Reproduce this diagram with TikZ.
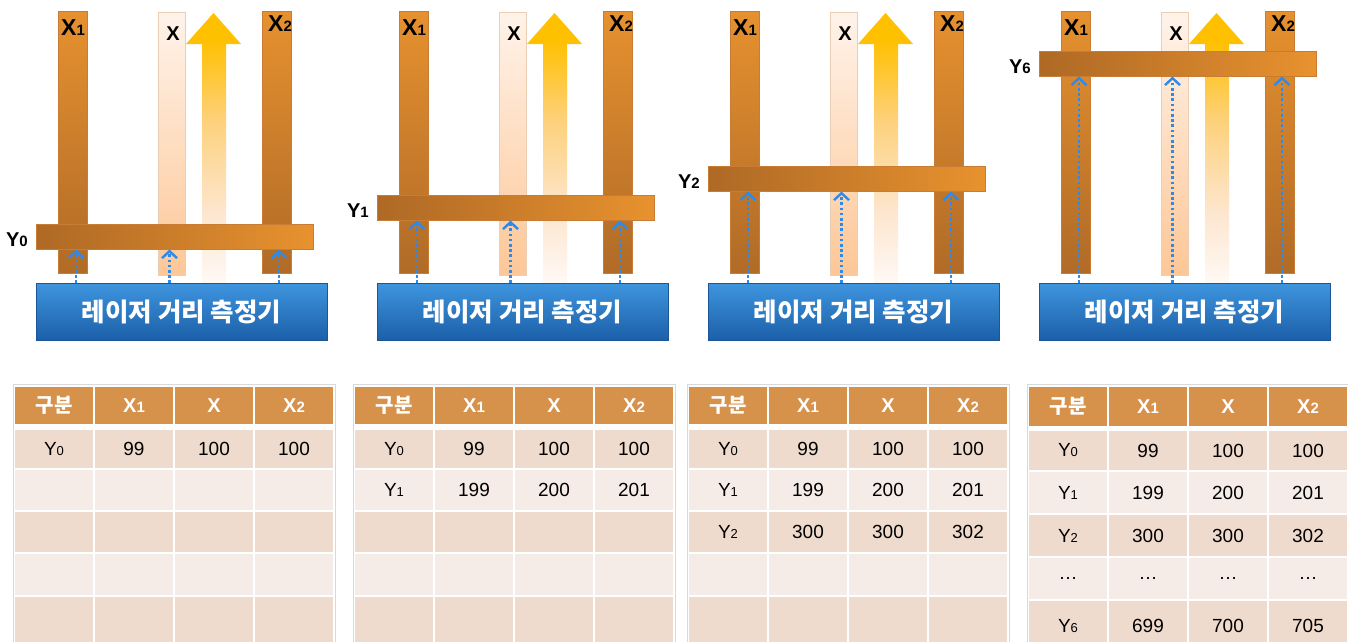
\documentclass[tikz,border=0pt]{standalone}
\usepackage{fontspec}
\setmainfont{Liberation Sans}
\newfontfamily\kr{Noto Sans CJK KR}
\usetikzlibrary{arrows.meta}
\definecolor{obarT}{HTML}{E6912F}
\definecolor{obarB}{HTML}{B06B27}
\definecolor{obarD}{HTML}{C97C33}
\definecolor{pbarT}{HTML}{FFF3EA}
\definecolor{pbarB}{HTML}{FDC797}
\definecolor{pbarD}{HTML}{EBCDB3}
\definecolor{ybarL}{HTML}{AE6925}
\definecolor{ybarR}{HTML}{E8922F}
\definecolor{arrT}{HTML}{FFC000}
\definecolor{arrM}{HTML}{FDD17C}
\definecolor{arrL}{HTML}{FDE6CF}
\definecolor{arrB}{HTML}{FFF9F5}
\definecolor{blueT}{HTML}{3E95DE}
\definecolor{blueB}{HTML}{1C5FA9}
\definecolor{blueD}{HTML}{1B5796}
\definecolor{dotblue}{HTML}{2C8AEB}
\definecolor{hdr}{HTML}{D6914A}
\definecolor{rowD}{HTML}{EFDBCD}
\definecolor{rowL}{HTML}{F6ECE7}
\definecolor{frm}{HTML}{D9D9D9}
\pgfdeclareverticalshading{goldarrow}{100bp}{color(0bp)=(arrB); color(25bp)=(arrB); color(38bp)=(arrL); color(55bp)=(arrM); color(70bp)=(arrT); color(100bp)=(arrT)}
\newcommand\sbs[1]{{\fontsize{13}{13}\selectfont #1}}
\newcommand\bsbs[1]{{\bfseries\fontsize{15}{15}\selectfont #1}}
\tikzset{
 obar/.style={draw=obarD, line width=0.5pt, top color=obarT, bottom color=obarB, minimum width=29pt, minimum height=262pt, inner sep=0pt, outer sep=0pt, anchor=north west},
 pbar/.style={draw=pbarD, line width=0.5pt, top color=pbarT, bottom color=pbarB, minimum width=27pt, minimum height=263pt, inner sep=0pt, outer sep=0pt, anchor=north west},
 ybar/.style={draw=obarD, line width=0.5pt, left color=ybarL, right color=ybarR, minimum width=277pt, minimum height=25.5pt, inner sep=0pt, outer sep=0pt, anchor=north west},
 laser/.style={draw=blueD, line width=0.6pt, top color=blueT, bottom color=blueB, minimum width=291pt, minimum height=57pt, inner sep=0pt, outer sep=0pt, anchor=north west, text=white, font=\kr\bfseries\fontsize{25.5}{25.5}\selectfont},
 blabel/.style={font=\bfseries\fontsize{23}{23}\selectfont, inner sep=0pt, anchor=base},
 slabel/.style={font=\bfseries\fontsize{20}{20}\selectfont, inner sep=0pt, anchor=base},
 ylabel/.style={font=\bfseries\fontsize{20}{20}\selectfont, inner sep=0pt, anchor=base east},
 dotarrow/.style={dotblue, line width=2.6pt, dash pattern=on 2.6pt off 2.6pt, -{Straight Barb[length=7pt,width=15pt,line width=2.4pt]}},
 cell/.style={minimum width=78pt, inner sep=0pt, outer sep=0pt, anchor=north west, font=\fontsize{19}{19}\selectfont, text=black},
 hcell/.style={cell, fill=hdr, text=white, font=\bfseries\fontsize{20}{20}\selectfont},
 tframe/.style={draw=frm, line width=0.8pt}
}
\newcommand\panel[4]{% #1 id, #2 dx, #3 ybar top, #4 Y subscript
\begin{scope}[xshift=#2pt]
 \shade[shading=goldarrow] (202,283) -- (202,44) -- (186,44) -- (213.5,13) -- (241,44) -- (226,44) -- (226,283) -- cycle;
 \node[obar] (#1x1) at (58,11) {};
 \node[pbar] (#1x) at (158,12) {};
 \node[obar] (#1x2) at (262,11) {};
 \node[blabel] (#1lx1) at ([xshift=0.5pt,yshift=-24pt]#1x1.north) {X\bsbs{1}};
 \node[slabel] (#1lx) at ([xshift=1.5pt,yshift=-28pt]#1x.north) {X};
 \node[blabel] (#1lx2) at ([xshift=3.5pt,yshift=-20pt]#1x2.north) {X\bsbs{2}};
 \node[ybar] (#1y) at (36,#3) {};
 \node[ylabel] (#1ly) at ([xshift=-8pt,yshift=3pt]#1y.south west) {Y\bsbs{#4}};
 \node[laser] (#1box) at (36,283) {레이저 거리 측정기};
 \draw[dotarrow] ([xshift=3.5pt]#1x1.center |- #1box.north) -- ([xshift=3.5pt]#1x1.center |- #1y.south);
 \draw[dotarrow] ([xshift=-2pt]#1x.center |- #1box.north) -- ([xshift=-2pt]#1x.center |- #1y.south);
 \draw[dotarrow] ([xshift=2.5pt]#1x2.center |- #1box.north) -- ([xshift=2.5pt]#1x2.center |- #1y.south);
\end{scope}}
\newcommand\thead[4]{% name, x0, y, h
 \node[hcell,minimum height=#4pt] (#1a) at (#2,#3) {\kr\bfseries 구분};
 \node[hcell,minimum height=#4pt] (#1b) at (#2+80,#3) {X\bsbs{1}};
 \node[hcell,minimum height=#4pt] (#1c) at (#2+160,#3) {X};
 \node[hcell,minimum height=#4pt] (#1d) at (#2+240,#3) {X\bsbs{2}};}
\newcommand\trow[9]{%
 \node[cell,fill=#5,minimum height=#4pt] (#1a) at (#2,#3) {#6};
 \node[cell,fill=#5,minimum height=#4pt] (#1b) at (#2+80,#3) {#7};
 \node[cell,fill=#5,minimum height=#4pt] (#1c) at (#2+160,#3) {#8};
 \node[cell,fill=#5,minimum height=#4pt] (#1d) at (#2+240,#3) {#9};}
\begin{document}
\begin{tikzpicture}[x=1pt,y=-1pt]
\useasboundingbox[fill=white] (0,0) rectangle (1348,641);
\panel{p1}{0}{224}{0}
\panel{p2}{341}{195}{1}
\panel{p3}{672}{166}{2}
\panel{p4}{1003}{51}{6}
% table 1
\draw[tframe] (13,384) rectangle (335,660);
\thead{t1h}{15}{387}{37}
\trow{t1r1}{15}{430}{38}{rowD}{Y\sbs{0}}{99}{100}{100}
\trow{t1r2}{15}{470}{40}{rowL}{}{}{}{}
\trow{t1r3}{15}{512}{40}{rowD}{}{}{}{}
\trow{t1r4}{15}{554}{41}{rowL}{}{}{}{}
\trow{t1r5}{15}{597}{50}{rowD}{}{}{}{}
% table 2
\draw[tframe] (353,384) rectangle (675,660);
\thead{t2h}{355}{387}{37}
\trow{t2r1}{355}{430}{38}{rowD}{Y\sbs{0}}{99}{100}{100}
\trow{t2r2}{355}{470}{40}{rowL}{Y\sbs{1}}{199}{200}{201}
\trow{t2r3}{355}{512}{40}{rowD}{}{}{}{}
\trow{t2r4}{355}{554}{41}{rowL}{}{}{}{}
\trow{t2r5}{355}{597}{50}{rowD}{}{}{}{}
% table 3
\draw[tframe] (687,384) rectangle (1009,660);
\thead{t3h}{689}{387}{37}
\trow{t3r1}{689}{430}{38}{rowD}{Y\sbs{0}}{99}{100}{100}
\trow{t3r2}{689}{470}{40}{rowL}{Y\sbs{1}}{199}{200}{201}
\trow{t3r3}{689}{512}{40}{rowD}{Y\sbs{2}}{300}{300}{302}
\trow{t3r4}{689}{554}{41}{rowL}{}{}{}{}
\trow{t3r5}{689}{597}{50}{rowD}{}{}{}{}
% table 4
\draw[tframe] (1027,384) rectangle (1360,660);
\thead{t4h}{1029}{387}{39}
\trow{t4r1}{1029}{431}{39}{rowD}{Y\sbs{0}}{99}{100}{100}
\trow{t4r2}{1029}{472}{41}{rowL}{Y\sbs{1}}{199}{200}{201}
\trow{t4r3}{1029}{515}{41}{rowD}{Y\sbs{2}}{300}{300}{302}
\trow{t4r4}{1029}{558}{41}{rowL}{…}{…}{…}{…}
\trow{t4r5}{1029}{601}{50}{rowD}{Y\sbs{6}}{699}{700}{705}
\end{tikzpicture}
\end{document}
